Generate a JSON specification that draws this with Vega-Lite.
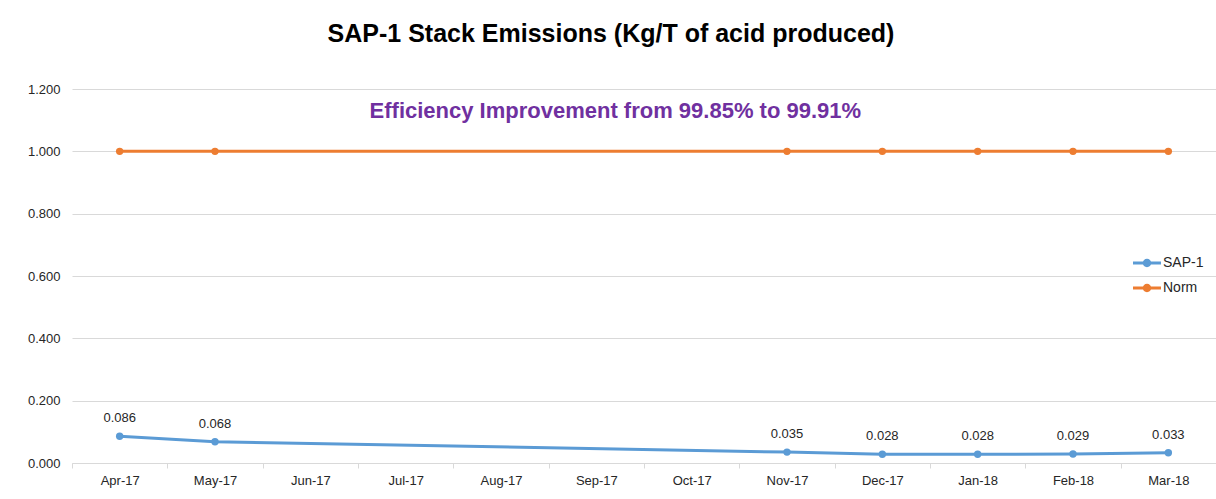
{
  "$schema": "https://vega.github.io/schema/vega-lite/v6.json",
  "width": 1144,
  "height": 374,
  "autosize": {"type": "none"},
  "padding": {"left": 72, "top": 89, "right": 0, "bottom": 36},
  "background": "white",
  "config": {"font": "Liberation Sans", "view": {"stroke": null}},
  "title": {
    "text": "SAP-1 Stack Emissions (Kg/T of acid produced)",
    "fontSize": 25,
    "fontWeight": "bold",
    "color": "#000000",
    "anchor": "middle",
    "dx": -33,
    "offset": 36
  },
  "datasets": {
    "emissions": [
      {"month": "Apr-17", "series": "SAP-1", "value": 0.086},
      {"month": "May-17", "series": "SAP-1", "value": 0.068},
      {"month": "Nov-17", "series": "SAP-1", "value": 0.035},
      {"month": "Dec-17", "series": "SAP-1", "value": 0.028},
      {"month": "Jan-18", "series": "SAP-1", "value": 0.028},
      {"month": "Feb-18", "series": "SAP-1", "value": 0.029},
      {"month": "Mar-18", "series": "SAP-1", "value": 0.033},
      {"month": "Apr-17", "series": "Norm", "value": 1.0},
      {"month": "May-17", "series": "Norm", "value": 1.0},
      {"month": "Nov-17", "series": "Norm", "value": 1.0},
      {"month": "Dec-17", "series": "Norm", "value": 1.0},
      {"month": "Jan-18", "series": "Norm", "value": 1.0},
      {"month": "Feb-18", "series": "Norm", "value": 1.0},
      {"month": "Mar-18", "series": "Norm", "value": 1.0}
    ],
    "note": [
      {"month": "Sep-17", "value": 1.13, "text": "Efficiency Improvement from 99.85% to 99.91%"}
    ]
  },
  "encoding": {
    "x": {
      "field": "month",
      "type": "ordinal",
      "scale": {
        "domain": ["Apr-17", "May-17", "Jun-17", "Jul-17", "Aug-17", "Sep-17", "Oct-17", "Nov-17", "Dec-17", "Jan-18", "Feb-18", "Mar-18"],
        "paddingInner": 0,
        "paddingOuter": 0
      },
      "axis": {
        "title": null,
        "labelAngle": 0,
        "labelFontSize": 13,
        "labelColor": "#262626",
        "labelPadding": 6,
        "tickBand": "extent",
        "tickColor": "#d9d9d9",
        "tickSize": 5,
        "domainColor": "#d9d9d9",
        "grid": false
      }
    },
    "y": {
      "field": "value",
      "type": "quantitative",
      "scale": {"domain": [0, 1.2], "nice": false},
      "axis": {
        "title": null,
        "values": [0, 0.2, 0.4, 0.6, 0.8, 1.0, 1.2],
        "format": ".3f",
        "labelFontSize": 13,
        "labelColor": "#262626",
        "labelPadding": 12,
        "ticks": false,
        "domain": false,
        "gridColor": "#d9d9d9",
        "gridWidth": 1
      }
    }
  },
  "layer": [
    {
      "data": {"name": "emissions"},
      "mark": {"type": "line", "strokeWidth": 3, "point": {"size": 55, "filled": true}},
      "encoding": {
        "color": {
          "field": "series",
          "type": "nominal",
          "scale": {"domain": ["SAP-1", "Norm"], "range": ["#5B9BD5", "#ED7D31"]},
          "legend": {
            "title": null,
            "orient": "none",
            "legendX": 1061,
            "legendY": 160,
            "symbolType": "M-1,-0.1H1V0.1H-1Z M0.3,0A0.3,0.3,0,1,1,-0.3,0A0.3,0.3,0,1,1,0.3,0Z",
            "symbolSize": 784,
            "symbolStrokeWidth": 0,
            "labelFontSize": 14,
            "labelColor": "#262626",
            "labelOffset": 2,
            "rowPadding": 4
          }
        }
      }
    },
    {
      "data": {"name": "emissions"},
      "transform": [{"filter": "datum.series === 'SAP-1'"}],
      "mark": {"type": "text", "fontSize": 13, "color": "#262626", "baseline": "bottom", "dy": -11},
      "encoding": {
        "text": {"field": "value", "type": "quantitative", "format": ".3f"}
      }
    },
    {
      "data": {"name": "note"},
      "mark": {"type": "text", "fontSize": 22, "fontWeight": "bold", "color": "#7030A0", "baseline": "middle", "align": "center", "dx": 19},
      "encoding": {
        "text": {"field": "text", "type": "nominal"}
      }
    }
  ]
}
